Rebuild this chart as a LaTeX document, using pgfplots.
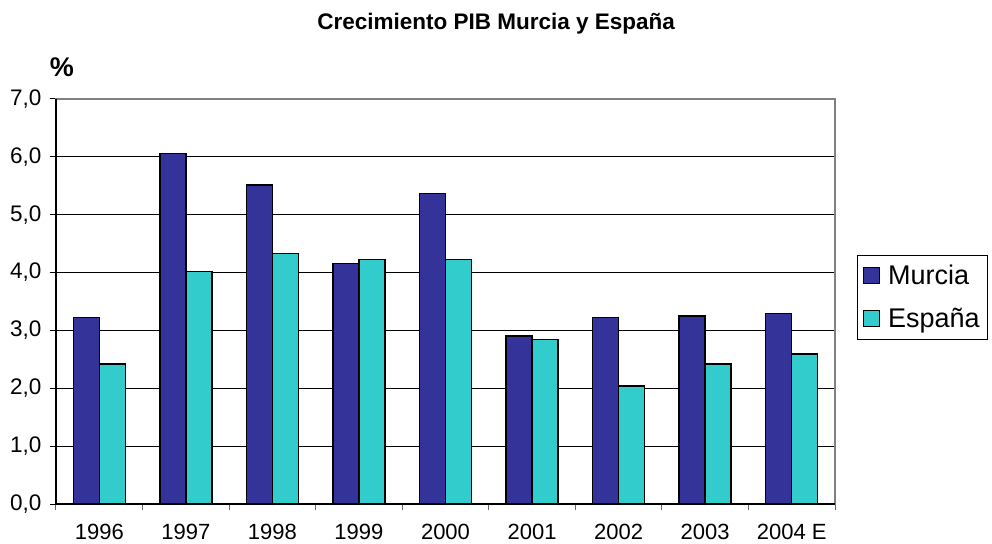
\documentclass[border=0pt]{standalone}
\usepackage{pgfplots}
\pgfplotsset{compat=1.18}
\usepackage{fontspec}
\setmainfont{Liberation Sans}
\definecolor{murcia}{HTML}{333399}
\definecolor{espana}{HTML}{33CCCC}
\begin{document}
\begin{tikzpicture}
\useasboundingbox (-56pt,-39pt) rectangle (936pt,504pt);
\begin{axis}[
  at={(0pt,0pt)}, anchor=south west,
  scale only axis, width=779pt, height=405pt,
  clip=false,
  xmin=-0.5, xmax=8.5, ymin=0, ymax=7,
  ybar=0pt, bar width=26pt,
  xtick={0,...,8},
  xticklabels={1996,1997,1998,1999,2000,2001,2002,2003,2004 E},
  minor xtick={-0.5,0.5,...,8.5},
  xtick pos=bottom, ytick pos=left,
  ytick={0,1,...,7},
  ymajorgrids, grid style={black, line width=1pt},
  tick align=outside,
  x tick style={draw=none},
  minor x tick style={draw=gray!80!black, line width=1pt},
  minor tick length=6pt,
  y tick style={black, line width=1pt},
  major tick length=6pt,
  axis line style={draw=gray, line width=2pt},
  ticklabel style={font=\fontsize{22.5}{26}\selectfont},
  yticklabel style={xshift=-5pt, /pgf/number format/.cd, fixed, fixed zerofill, precision=1, use comma, assume math mode=true},
  xticklabel style={inner sep=0pt, yshift=-14pt, font=\fontsize{22}{24}\selectfont},
  legend style={at={(rel axis cs:1.0282,0.6148)}, anchor=north west, draw=black, line width=0.8pt,
    font=\fontsize{27}{31}\selectfont, inner xsep=6pt, inner ysep=8pt, row sep=18pt,
    cells={anchor=west}, /tikz/every odd column/.append style={column sep=6pt}},
]
\addplot[fill=murcia, draw=black, line width=1.5pt,
  legend image code/.code={\draw[fill=murcia,draw=black,line width=0.8pt] (0pt,-7pt) rectangle (16pt,9pt);}]
  coordinates {(0,3.22) (1,6.06) (2,5.51) (3,4.16) (4,5.37) (5,2.90) (6,3.22) (7,3.25) (8,3.29)};
\addplot[fill=espana, draw=black, line width=1.5pt,
  legend image code/.code={\draw[fill=espana,draw=black,line width=0.8pt] (0pt,-7pt) rectangle (16pt,9pt);}]
  coordinates {(0,2.42) (1,4.02) (2,4.33) (3,4.23) (4,4.23) (5,2.84) (6,2.04) (7,2.42) (8,2.59)};
\legend{Murcia, España}
\draw[black, line width=1.3pt] (rel axis cs:0,1) -- (rel axis cs:0,0) -- (rel axis cs:1,0);
\node[font=\fontsize{22.5}{26}\selectfont\bfseries] at (rel axis cs:0.565,1.185) {Crecimiento PIB Murcia y España};
\node[font=\fontsize{27}{31}\selectfont\bfseries] at (rel axis cs:0.0077,1.079) {\%};
\end{axis}
\end{tikzpicture}
\end{document}
